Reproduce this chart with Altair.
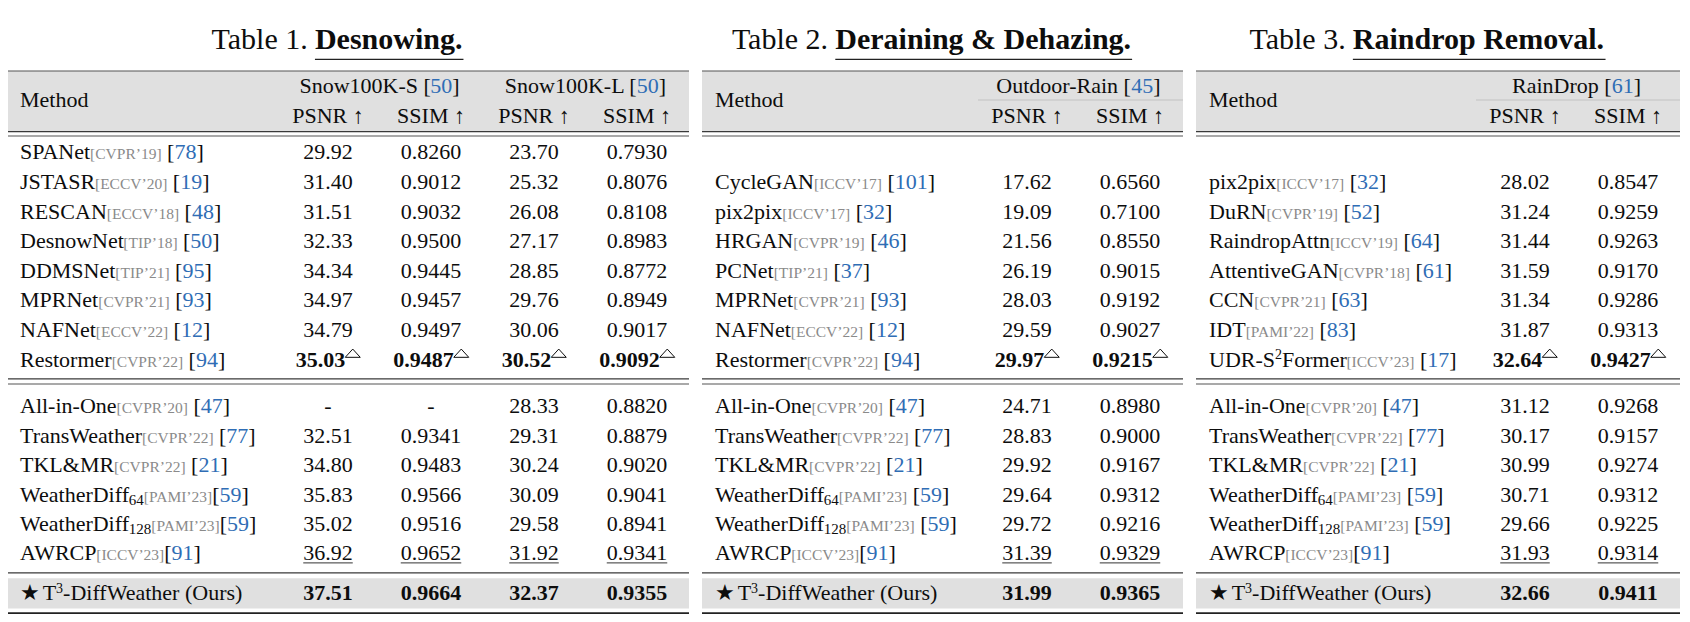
import re
import altair as alt
import pandas as pd

# ---------------- values ----------------
TITLES = [("Table 1.", "Desnowing."), ("Table 2.", "Deraining & Dehazing."), ("Table 3.", "Raindrop Removal.")]
GROUPS = [[("Snow100K-S", "50"), ("Snow100K-L", "50")], [("Outdoor-Rain", "45")], [("RainDrop", "61")]]
METRICS = ["PSNR ↑", "SSIM ↑"]

# Table 1 (desnowing) - task specific methods
T1_METHODS = ["SPANet", "JSTASR", "RESCAN", "DesnowNet", "DDMSNet", "MPRNet", "NAFNet", "Restormer"]
T1_VENUES = ["CVPR’19", "ECCV’20", "ECCV’18", "TIP’18", "TIP’21", "CVPR’21", "ECCV’22", "CVPR’22"]
T1_REFS = ["78", "19", "48", "50", "95", "93", "12", "94"]
T1_S_PSNR = ["29.92", "31.40", "31.51", "32.33", "34.34", "34.97", "34.79", "35.03"]
T1_S_SSIM = ["0.8260", "0.9012", "0.9032", "0.9500", "0.9445", "0.9457", "0.9497", "0.9487"]
T1_L_PSNR = ["23.70", "25.32", "26.08", "27.17", "28.85", "29.76", "30.06", "30.52"]
T1_L_SSIM = ["0.7930", "0.8076", "0.8108", "0.8983", "0.8772", "0.8949", "0.9017", "0.9092"]

# Table 2 (deraining & dehazing)
T2_METHODS = ["CycleGAN", "pix2pix", "HRGAN", "PCNet", "MPRNet", "NAFNet", "Restormer"]
T2_VENUES = ["ICCV’17", "ICCV’17", "CVPR’19", "TIP’21", "CVPR’21", "ECCV’22", "CVPR’22"]
T2_REFS = ["101", "32", "46", "37", "93", "12", "94"]
T2_PSNR = ["17.62", "19.09", "21.56", "26.19", "28.03", "29.59", "29.97"]
T2_SSIM = ["0.6560", "0.7100", "0.8550", "0.9015", "0.9192", "0.9027", "0.9215"]

# Table 3 (raindrop removal)
T3_METHODS = ["pix2pix", "DuRN", "RaindropAttn", "AttentiveGAN", "CCN", "IDT", "UDR-S^2Former"]
T3_VENUES = ["ICCV’17", "CVPR’19", "ICCV’19", "CVPR’18", "CVPR’21", "PAMI’22", "ICCV’23"]
T3_REFS = ["32", "52", "64", "61", "63", "83", "17"]
T3_PSNR = ["28.02", "31.24", "31.44", "31.59", "31.34", "31.87", "32.64"]
T3_SSIM = ["0.8547", "0.9259", "0.9263", "0.9170", "0.9286", "0.9313", "0.9427"]

# All-weather methods (shared by the three tables), last row = ours
AW_METHODS = ["All-in-One", "TransWeather", "TKL&MR", "WeatherDiff_64", "WeatherDiff_128", "AWRCP",
              "★ T^3-DiffWeather (Ours)"]
AW_VENUES = ["CVPR’20", "CVPR’22", "CVPR’22", "PAMI’23", "PAMI’23", "ICCV’23", ""]
AW_REFS = ["47", "77", "21", "59", "59", "91", ""]
T1_AW_GAP = [True, True, True, False, False, False, False]
T23_AW_GAP = [True, True, True, True, True, False, False]
T1_AW_S_PSNR = ["-", "32.51", "34.80", "35.83", "35.02", "36.92", "37.51"]
T1_AW_S_SSIM = ["-", "0.9341", "0.9483", "0.9566", "0.9516", "0.9652", "0.9664"]
T1_AW_L_PSNR = ["28.33", "29.31", "30.24", "30.09", "29.58", "31.92", "32.37"]
T1_AW_L_SSIM = ["0.8820", "0.8879", "0.9020", "0.9041", "0.8941", "0.9341", "0.9355"]
T2_AW_PSNR = ["24.71", "28.83", "29.92", "29.64", "29.72", "31.39", "31.99"]
T2_AW_SSIM = ["0.8980", "0.9000", "0.9167", "0.9312", "0.9216", "0.9329", "0.9365"]
T3_AW_PSNR = ["31.12", "30.17", "30.99", "30.71", "29.66", "31.93", "32.66"]
T3_AW_SSIM = ["0.9268", "0.9157", "0.9274", "0.9312", "0.9225", "0.9314", "0.9411"]

TABLES = [
    dict(methods=T1_METHODS, venues=T1_VENUES, refs=T1_REFS, cols=[T1_S_PSNR, T1_S_SSIM, T1_L_PSNR, T1_L_SSIM],
         aw_cols=[T1_AW_S_PSNR, T1_AW_S_SSIM, T1_AW_L_PSNR, T1_AW_L_SSIM], aw_gap=T1_AW_GAP),
    dict(methods=T2_METHODS, venues=T2_VENUES, refs=T2_REFS, cols=[T2_PSNR, T2_SSIM],
         aw_cols=[T2_AW_PSNR, T2_AW_SSIM], aw_gap=T23_AW_GAP),
    dict(methods=T3_METHODS, venues=T3_VENUES, refs=T3_REFS, cols=[T3_PSNR, T3_SSIM],
         aw_cols=[T3_AW_PSNR, T3_AW_SSIM], aw_gap=T23_AW_GAP),
]

# ---------------- layout (page pixels) ----------------
LAYOUT = [
    dict(left=7, right=689, col_off=[321, 424, 527, 630], first=0, cline=False),
    dict(left=702, right=1183, col_off=[325, 428], first=1, cline=True),
    dict(left=1196, right=1680, col_off=[329, 432], first=1, cline=True),
]
FONT = "Liberation Serif"
TEXT, GRAYTXT, BLUE = "#0d0d0d", "#8a8a8a", "#2f6db5"
FILL, RULE, CLINE = "#e0e0e0", "#3a3a3a", "#c2c2c2"
FS, FS_VENUE, FS_SUB, FS_SUP, FS_TITLE = 22, 15.5, 15, 14, 30
CAP = 7.3
Y_TITLE, Y_ULINE = 49.3, 59.3
Y_TOP, Y_HEAD_D1, Y_HEAD_D2 = 71, 131.7, 136
Y_GROUP, Y_METHOD, Y_METRIC, Y_CLINE = 86, 100, 115.5, 100
Y_ROW0, STEP1 = 152, 29.6
Y_MID1, Y_MID2 = 378.8, 384
Y_AW0, STEP2 = 406, 29.4
Y_PRE, Y_OURS, Y_BOT = 572.8, 593, 613.3
Y_BAND0, Y_BAND1 = 578.3, 608.5

R_ = dict(zip(" !&'’()-.[]★↑", [250, 333, 778, 180, 333, 333, 333, 333, 250, 333, 333, 780, 500]))
R_.update({d: 500 for d in "0123456789"})
R_.update(dict(zip("ABCDEFGHIJKLMNOPQRSTUVWXYZ",
                   [722, 667, 667, 722, 611, 556, 722, 722, 333, 389, 722, 611, 889, 722, 722, 556, 722, 667, 556,
                    611, 722, 722, 944, 722, 722, 611])))
R_.update(dict(zip("abcdefghijklmnopqrstuvwxyz",
                   [444, 500, 444, 500, 444, 333, 500, 500, 278, 278, 500, 278, 778, 500, 500, 500, 500, 333, 389,
                    278, 500, 500, 722, 500, 500, 444])))
B_ = dict(zip(" &.", [250, 833, 250]))
B_.update({d: 500 for d in "0123456789"})
B_.update(dict(zip("ABCDEFGHIJKLMNOPQRSTUVWXYZ",
                   [722, 667, 722, 722, 667, 611, 778, 778, 389, 500, 778, 667, 944, 722, 778, 611, 778, 722, 556,
                    667, 722, 722, 1000, 722, 722, 667])))
B_.update(dict(zip("abcdefghijklmnopqrstuvwxyz",
                   [500, 556, 444, 556, 444, 333, 500, 556, 278, 333, 556, 278, 833, 556, 500, 556, 556, 444, 389,
                    333, 556, 500, 722, 500, 500, 444])))
# pair kerning applied by the browser (approximate Times values)
KERN = {"We": -80, "Wa": -80, "Tr": -35, "TA": -93, "PA": -92, "AW": -90, "AT": -111, "ow": -25,
        "Fo": -15, "ff": -25, "Ta": -80, "Te": -70, "LT": -92, "AV": -135}


def tw(s, size, bold=False):
    tab = B_ if bold else R_
    units = sum(tab.get(c, 500) for c in s)
    if not bold:
        units += sum(KERN.get(s[k:k + 2], 0) for k in range(len(s) - 1))
    return units * size / 1000.0


STY = {"n": (FS, TEXT, 0, "normal"), "b": (FS, TEXT, 0, "bold"), "venue": (FS_VENUE, GRAYTXT, 0, "normal"),
       "ref": (FS, BLUE, 0, "normal"), "sub": (FS_SUB, TEXT, 3.5, "normal"), "sup": (FS_SUP, TEXT, -7.6, "normal")}

texts, rules, rects, tris = [], [], [], []


def add_text(x, y, t, fs, col, weight="normal", align="left"):
    texts.append(dict(x=x, y=y, label=t, fs=fs, col=col, fw=weight, al=align))


def runs_width(runs):
    return sum(tw(t, STY[s][0], STY[s][3] == "bold") for t, s in runs)


def add_rich(x, base, runs):
    for t, s in runs:
        fs, col, dy, wt = STY[s]
        stripped = t.lstrip(" ")
        x += tw(t[: len(t) - len(stripped)], fs, wt == "bold")
        if stripped:
            add_text(x, base + dy, stripped, fs, col, wt)
        x += tw(stripped, fs, wt == "bold")
    return x


def method_runs(name, venue, ref, gap):
    runs = []
    for part in re.split(r"([_^]\d+|★)", name):
        if not part:
            continue
        if part[0] == "_":
            runs.append((part[1:], "sub"))
        elif part[0] == "^":
            runs.append((part[1:], "sup"))
        else:
            runs.append((part, "n"))
    if venue:
        runs.append(("[" + venue + "]", "venue"))
    if ref:
        runs += [((" " if gap else "") + "[", "n"), (ref, "ref"), ("]", "n")]
    return runs


def hrule(x1, x2, y, sw=1.1, col=RULE):
    rules.append(dict(x=x1, x2=x2, y=y, y2=y, sw=sw, col=col))


for ti, (tab, lay) in enumerate(zip(TABLES, LAYOUT)):
    L, R = lay["left"], lay["right"]
    cols = [L + o for o in lay["col_off"]]
    mid = (L + R) / 2
    # title
    t_norm, t_bold = TITLES[ti]
    w_norm = tw(t_norm + " ", FS_TITLE)
    w_bold = tw(t_bold, FS_TITLE, True)
    x0 = mid - (w_norm + w_bold) / 2 - 11
    add_text(x0, Y_TITLE, t_norm, FS_TITLE, TEXT)
    add_text(x0 + w_norm, Y_TITLE, t_bold, FS_TITLE, TEXT, "bold")
    hrule(x0 + w_norm, x0 + w_norm + w_bold + 1, Y_ULINE, 1.3, "#222222")
    # header band and rules
    rects.append(dict(x=L, x2=R, y=Y_TOP, y2=Y_HEAD_D1, fill=FILL))
    rects.append(dict(x=L, x2=R, y=Y_BAND0, y2=Y_BAND1, fill=FILL))
    hrule(L, R, Y_TOP, 1.2, "#555555")
    hrule(L, R, Y_HEAD_D1, 1.2)
    hrule(L, R, Y_HEAD_D2, 1.2, "#555555")
    hrule(L, R, Y_MID1, 1.2)
    hrule(L, R, Y_MID2, 1.2, "#555555")
    hrule(L, R, Y_PRE, 1.3)
    hrule(L, R, Y_BOT, 2.0, "#222222")
    if lay["cline"]:
        hrule(cols[0] - 49, R, Y_CLINE, 1.0, CLINE)
    add_text(L + 13, Y_METHOD + CAP, "Method", FS, TEXT)
    for gi, (gname, gref) in enumerate(GROUPS[ti]):
        c = (cols[2 * gi] + cols[2 * gi + 1]) / 2
        runs = [(gname + " [", "n"), (gref, "ref"), ("]", "n")]
        add_rich(c - runs_width(runs) / 2, Y_GROUP + CAP, runs)
    for ci, c in enumerate(cols):
        add_text(c, Y_METRIC + CAP, METRICS[ci % 2], FS, TEXT, align="center")
    # task specific rows
    n = len(tab["methods"])
    for i in range(n):
        y = Y_ROW0 + (lay["first"] + i) * STEP1
        base = y + CAP
        add_rich(L + 13, base, method_runs(tab["methods"][i], tab["venues"][i], tab["refs"][i], True))
        for ci, c in enumerate(cols):
            v = tab["cols"][ci][i]
            if i == n - 1:
                wn, wt = tw(v, FS, True), 15
                left = c - (wn + wt) / 2
                add_text(left + wn / 2, base, v, FS, TEXT, "bold", "center")
                tris.append(dict(x=left + wn + wt / 2, y=y - 6))
            else:
                add_text(c, base, v, FS, TEXT, align="center")
    # all-weather rows
    m = len(AW_METHODS)
    for i in range(m):
        y = Y_OURS if i == m - 1 else Y_AW0 + i * STEP2
        base = y + CAP
        add_rich(L + 13, base, method_runs(AW_METHODS[i], AW_VENUES[i], AW_REFS[i], tab["aw_gap"][i]))
        for ci, c in enumerate(cols):
            v = tab["aw_cols"][ci][i]
            if i == m - 1:
                add_text(c, base, v, FS, TEXT, "bold", "center")
            else:
                add_text(c, base, v, FS, TEXT, align="center")
                if i == m - 2:
                    w = tw(v, FS)
                    hrule(c - w / 2, c + w / 2, base + 2.6, 1.0, "#333333")

# ---------------- chart ----------------
W, H = 1674, 606
xs = alt.Scale(domain=[8, 8 + W], range=[0, W], nice=False, zero=False)
ys = alt.Scale(domain=[8, 8 + H], range=[0, H], nice=False, zero=False)
X = alt.X("x:Q", scale=xs, axis=None)
Y = alt.Y("y:Q", scale=ys, axis=None)

rect_layer = alt.Chart(pd.DataFrame(rects)).mark_rect().encode(
    x=X, x2="x2:Q", y=Y, y2="y2:Q", fill=alt.Fill("fill:N", scale=None))
rule_layer = alt.Chart(pd.DataFrame(rules)).mark_rule().encode(
    x=X, x2="x2:Q", y=Y, y2="y2:Q",
    strokeWidth=alt.StrokeWidth("sw:Q", scale=None), color=alt.Color("col:N", scale=None))

tdf = pd.DataFrame(texts)
text_layers = []
for weight in ["normal", "bold"]:
    for align in ["left", "center"]:
        sub = tdf[(tdf["fw"] == weight) & (tdf["al"] == align)]
        if len(sub) == 0:
            continue
        text_layers.append(
            alt.Chart(sub).mark_text(align=align, baseline="alphabetic", font=FONT, fontWeight=weight).encode(
                x=X, y=Y, text="label:N", size=alt.Size("fs:Q", scale=None), color=alt.Color("col:N", scale=None)))

tri_layer = alt.Chart(pd.DataFrame(tris)).mark_point(
    shape="M -1 0.55 L 1 0.55 L 0 -0.55 Z", filled=False, size=225, strokeWidth=1.0, color=TEXT, opacity=1
).encode(x=X, y=Y)

chart = alt.layer(rect_layer, rule_layer, *text_layers, tri_layer).properties(
    width=W, height=H, padding=0, autosize=alt.AutoSizeParams(type="none")
).configure_view(stroke=None)

chart.save("out.html", embed_options={"renderer": "svg", "actions": False})
